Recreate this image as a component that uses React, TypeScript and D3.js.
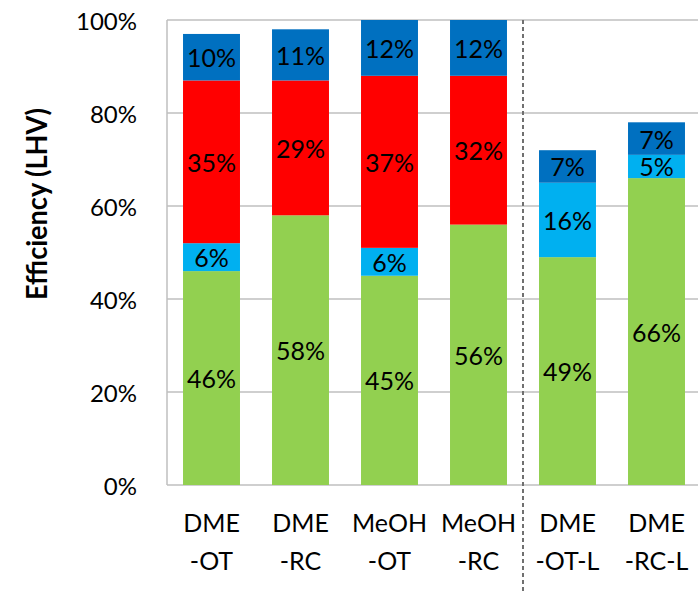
import React from "react";
import * as d3 from "d3";

const categories = ["DME-OT", "DME-RC", "MeOH-OT", "MeOH-RC", "DME-OT-L", "DME-RC-L"];
const labelLine1 = ["DME", "DME", "MeOH", "MeOH", "DME", "DME"];
const labelLine2 = ["-OT", "-RC", "-OT", "-RC", "-OT-L", "-RC-L"];
const seriesKeys = ["green", "lightblue", "red", "blue"];
const greenValues = [46, 58, 45, 56, 49, 66];
const lightBlueValues = [6, 0, 6, 0, 16, 5];
const redValues = [35, 29, 37, 32, 0, 0];
const blueValues = [10, 11, 12, 12, 7, 7];
const seriesColors = ["#92D050", "#00B0F0", "#FF0000", "#0070C0"];
const yTicks = [0, 20, 40, 60, 80, 100];

const W = 698;
const H = 592;
const left = 167;
const top = 20;
const bottom = 485;
const right = 701;
const FONT = "Lato, 'Open Sans', sans-serif";

export default function App() {
  const rows = categories.map((c, i) => ({
    cat: c,
    green: greenValues[i],
    lightblue: lightBlueValues[i],
    red: redValues[i],
    blue: blueValues[i],
  }));
  const stacked = d3.stack<any>().keys(seriesKeys)(rows);
  const x = d3.scaleBand().domain(categories).range([left, right]).paddingInner(0.36).paddingOuter(0.18);
  const y = d3.scaleLinear().domain([0, 100]).range([bottom, top]);
  const dashX = left + x.step() * 4;

  return (
    <div style={{ position: "absolute", left: 0, top: 0 }}>
      <svg width={W} height={H} style={{ display: "block", background: "#fff" }}>
        {yTicks.map((t) => (
          <line key={t} x1={left} x2={W} y1={y(t)} y2={y(t)} stroke="#BFBFBF" strokeWidth={1.5} />
        ))}
        <line x1={left} x2={left} y1={top} y2={bottom} stroke="#BFBFBF" strokeWidth={1.5} />
        {stacked.map((s, si) =>
          s.map((d, i) => {
            const v = d[1] - d[0];
            if (v <= 0) return null;
            return (
              <rect
                key={`${si}-${i}`}
                x={x(categories[i])}
                width={x.bandwidth()}
                y={y(d[1])}
                height={y(d[0]) - y(d[1])}
                fill={seriesColors[si]}
              />
            );
          })
        )}
        {stacked.map((s, si) =>
          s.map((d, i) => {
            const v = d[1] - d[0];
            if (v <= 0) return null;
            return (
              <text
                key={`l-${si}-${i}`}
                x={(x(categories[i]) as number) + x.bandwidth() / 2}
                y={(y(d[0]) + y(d[1])) / 2}
                textAnchor="middle"
                dominantBaseline="central"
                fontFamily={FONT}
                fontSize={25}
                fill="#000"
              >
                {`${Math.round(v)}%`}
              </text>
            );
          })
        )}
        <line x1={dashX} x2={dashX} y1={top} y2={H} stroke="#707070" strokeWidth={2} strokeDasharray="4 3" />
        {yTicks.map((t) => (
          <text
            key={`yt-${t}`}
            x={137}
            y={y(t)}
            textAnchor="end"
            dominantBaseline="central"
            fontFamily={FONT}
            fontSize={24}
            fill="#000"
          >
            {`${t}%`}
          </text>
        ))}
        {categories.map((c, i) => {
          const cx = (x(c) as number) + x.bandwidth() / 2;
          return (
            <g key={`xl-${c}`} fontFamily={FONT} fontSize={25} fill="#000" textAnchor="middle">
              <text x={cx} y={532}>{labelLine1[i]}</text>
              <text x={cx} y={570}>{labelLine2[i]}</text>
            </g>
          );
        })}
        <text
          transform={`translate(47,204) rotate(-90)`}
          textAnchor="middle"
          fontFamily={FONT}
          fontWeight="bold"
          fontSize={29}
          textLength={192}
          lengthAdjust="spacingAndGlyphs"
          fill="#000"
        >
          Efficiency (LHV)
        </text>
      </svg>
    </div>
  );
}
